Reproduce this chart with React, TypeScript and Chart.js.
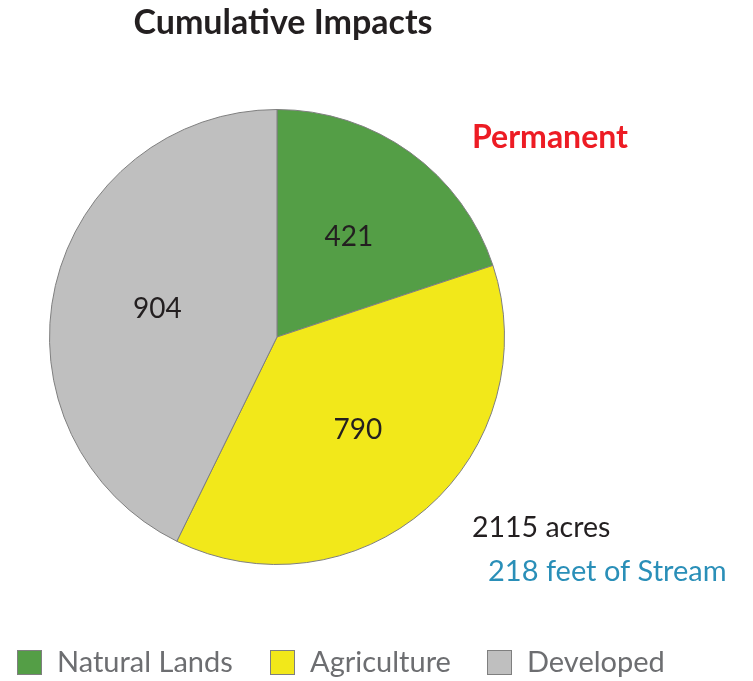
import React, { useEffect, useRef } from "react";
import { Chart, registerables } from "chart.js";

Chart.register(...registerables);

const categories = ["Natural Lands", "Agriculture", "Developed"];
const acres = [421, 790, 904];
const sliceColors = ["#549E46", "#F2E81A", "#BFBFBF"];
const titleText = "Cumulative Impacts";
const subtitleText = "Permanent";
const totalText = "2115 acres";
const streamText = "218 feet of Stream";

const FONT = "Lato, 'Open Sans', sans-serif";

const overlayPlugin = {
  id: "overlay",
  afterDatasetsDraw(chart: any) {
    const ctx = chart.ctx as CanvasRenderingContext2D;
    const meta = chart.getDatasetMeta(0);
    ctx.save();
    // slice value labels
    ctx.font = `28px ${FONT}`;
    ctx.fillStyle = "#231F20";
    ctx.textAlign = "center";
    ctx.textBaseline = "middle";
    meta.data.forEach((arc: any, i: number) => {
      const p = arc.getProps(["x", "y", "startAngle", "endAngle", "outerRadius"], true);
      const mid = (p.startAngle + p.endAngle) / 2;
      const r = p.outerRadius * 0.54;
      ctx.fillText(String(chart.data.datasets[0].data[i]), p.x + Math.cos(mid) * r, p.y + Math.sin(mid) * r);
    });
    // title
    ctx.font = `bold 34px ${FONT}`;
    ctx.fillStyle = "#231F20";
    ctx.fillText(titleText, 283, 23);
    // side texts
    ctx.textAlign = "left";
    ctx.font = `bold 32px ${FONT}`;
    ctx.fillStyle = "#ED1C24";
    ctx.fillText(subtitleText, 472, 138);
    ctx.font = `28.5px ${FONT}`;
    ctx.fillStyle = "#231F20";
    ctx.fillText(totalText, 472, 528);
    ctx.font = `29px ${FONT}`;
    ctx.fillStyle = "#2A8FB8";
    ctx.fillText(streamText, 488, 572);
    // legend
    const boxX = [17, 270, 487];
    ctx.font = `29px ${FONT}`;
    chart.data.labels.forEach((lab: string, i: number) => {
      const x = boxX[i];
      ctx.fillStyle = chart.data.datasets[0].backgroundColor[i];
      ctx.fillRect(x, 650, 25, 25);
      ctx.strokeStyle = "#7F7F7F";
      ctx.lineWidth = 1;
      ctx.strokeRect(x + 0.5, 650.5, 24, 24);
      ctx.fillStyle = "#6D6E71";
      ctx.fillText(lab, x + 40, 663);
    });
    ctx.restore();
  },
};

export default function App() {
  const ref = useRef<HTMLCanvasElement>(null);
  useEffect(() => {
    document.body.style.margin = "0";
    const chart = new Chart(ref.current!, {
      type: "pie",
      data: {
        labels: categories,
        datasets: [
          {
            data: acres,
            backgroundColor: sliceColors,
            borderColor: "#7F7F7F",
            borderWidth: 1,
          },
        ],
      },
      options: {
        responsive: false,
        animation: false,
        layout: { padding: { left: 49, right: 248, top: 109, bottom: 116 } },
        plugins: {
          legend: { display: false },
          title: { display: false },
          tooltip: { enabled: false },
        },
      },
      plugins: [overlayPlugin],
    });
    return () => chart.destroy();
  }, []);
  return <canvas ref={ref} width={753} height={681} style={{ display: "block" }} />;
}
